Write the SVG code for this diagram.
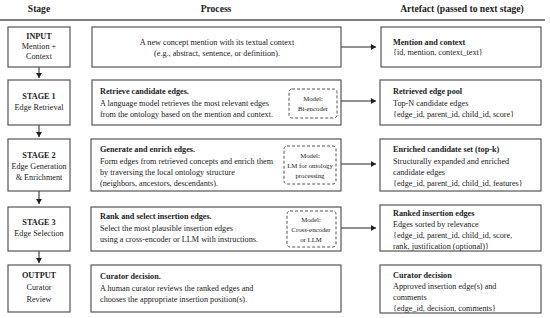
<svg xmlns="http://www.w3.org/2000/svg" width="550" height="318" viewBox="0 0 550 318">
<defs>
<marker id="ah" markerWidth="6" markerHeight="6" refX="5" refY="3" orient="auto" markerUnits="userSpaceOnUse">
<path d="M0,0 L5,3 L0,6 Z" fill="#222"/>
</marker>
</defs>
<style>
text{font-family:"Liberation Serif",serif;fill:#222;font-size:8.2px}
.h{font-size:9.6px;font-weight:bold;text-anchor:middle}
.b{font-weight:bold}
.c{text-anchor:middle}
.box{fill:#fff;stroke:#555;stroke-width:1.2}
.dash{fill:none;stroke:#555;stroke-width:1;stroke-dasharray:3,2}
.m{font-size:6.8px;text-anchor:middle}
.con{stroke:#222;stroke-width:1;fill:none}
</style>
<rect width="550" height="318" fill="#fff"/>
<g id="header">
<text class="h" x="39" y="12">Stage</text>
<text class="h" x="216" y="12">Process</text>
<text class="h" x="462" y="12">Artefact (passed to next stage)</text>
<line x1="0" y1="20" x2="545" y2="20" stroke="#555" stroke-width="1.3"/>
</g>
<g id="connectors">
<line class="con" x1="39" y1="67" x2="39" y2="78" marker-end="url(#ah)"/>
<line class="con" x1="39" y1="125" x2="39" y2="137" marker-end="url(#ah)"/>
<line class="con" x1="39" y1="191" x2="39" y2="204" marker-end="url(#ah)"/>
<line class="con" x1="39" y1="251" x2="39" y2="263" marker-end="url(#ah)"/>
<line class="con" x1="341" y1="47" x2="376" y2="47" marker-end="url(#ah)"/>
<line class="con" x1="341" y1="101" x2="376" y2="101" marker-end="url(#ah)"/>
<line class="con" x1="341" y1="164" x2="376" y2="164" marker-end="url(#ah)"/>
<line class="con" x1="341" y1="228" x2="376" y2="228" marker-end="url(#ah)"/>
</g>
<g id="stage-input">
<rect class="box" x="8" y="27" width="62" height="40"/>
<text class="c b" x="39" y="39">INPUT</text>
<text class="c" x="39" y="49">Mention +</text>
<text class="c" x="39" y="59">Context</text>
</g>
<g id="stage-1">
<rect class="box" x="8" y="80" width="62" height="45"/>
<text class="c b" x="39" y="99">STAGE 1</text>
<text class="c" x="39" y="110">Edge Retrieval</text>
</g>
<g id="stage-2">
<rect class="box" x="8" y="139" width="62" height="52"/>
<text class="c b" x="39" y="158">STAGE 2</text>
<text class="c" x="39" y="169">Edge Generation</text>
<text class="c" x="39" y="180">&amp; Enrichment</text>
</g>
<g id="stage-3">
<rect class="box" x="8" y="207" width="62" height="44"/>
<text class="c b" x="39" y="225">STAGE 3</text>
<text class="c" x="39" y="236">Edge Selection</text>
</g>
<g id="stage-output">
<rect class="box" x="8" y="265" width="62" height="47"/>
<text class="c b" x="39" y="278">OUTPUT</text>
<text class="c" x="39" y="290">Curator</text>
<text class="c" x="39" y="302">Review</text>
</g>
<g id="process-0">
<rect class="box" x="92" y="27" width="249" height="40"/>
<text class="c" x="217" y="45">A new concept mention with its textual context</text>
<text class="c" x="217" y="56">(e.g., abstract, sentence, or definition).</text>
</g>
<g id="process-1">
<rect class="box" x="92" y="80" width="249" height="45"/>
<text class="b" x="100" y="94">Retrieve candidate edges.</text>
<text x="100" y="106">A language model retrieves the most relevant edges</text>
<text x="100" y="117">from the ontology based on the mention and context.</text>
<rect class="dash" x="289" y="89" width="48" height="29" rx="3"/>
<text class="m" x="313" y="101">Model:</text>
<text class="m" x="313" y="111">Bi-encoder</text>
</g>
<g id="process-2">
<rect class="box" x="91" y="139" width="250" height="52"/>
<text class="b" x="100" y="152">Generate and enrich edges.</text>
<text x="100" y="164">Form edges from retrieved concepts and enrich them</text>
<text x="100" y="175">by traversing the local ontology structure</text>
<text x="100" y="186">(neighbors, ancestors, descendants).</text>
<rect class="dash" x="284" y="146" width="52" height="38" rx="3"/>
<text class="m" x="310" y="158">Model:</text>
<text class="m" x="310" y="168">LM for ontology</text>
<text class="m" x="310" y="178">processing</text>
</g>
<g id="process-3">
<rect class="box" x="91" y="207" width="250" height="44"/>
<text class="b" x="100" y="219">Rank and select insertion edges.</text>
<text x="100" y="231">Select the most plausible insertion edges</text>
<text x="100" y="242">using a cross-encoder or LLM with instructions.</text>
<rect class="dash" x="287" y="211" width="49" height="36" rx="3"/>
<text class="m" x="311" y="222">Model:</text>
<text class="m" x="311" y="232">Cross-encoder</text>
<text class="m" x="311" y="242">or LLM</text>
</g>
<g id="process-4">
<rect class="box" x="91" y="265" width="250" height="47"/>
<text class="b" x="100" y="279">Curator decision.</text>
<text x="100" y="291">A human curator reviews the ranked edges and</text>
<text x="100" y="302">chooses the appropriate insertion position(s).</text>
</g>
<g id="artefact-0">
<rect class="box" x="381" y="27" width="160" height="40"/>
<text class="b" x="393" y="45">Mention and context</text>
<text x="393" y="55">{id, mention, context_text}</text>
</g>
<g id="artefact-1">
<rect class="box" x="380" y="80" width="161" height="45"/>
<text class="b" x="393" y="94">Retrieved edge pool</text>
<text x="393" y="106">Top-N candidate edges</text>
<text x="393" y="117">{edge_id, parent_id, child_id, score}</text>
</g>
<g id="artefact-2">
<rect class="box" x="380" y="139" width="161" height="52"/>
<text class="b" x="393" y="152">Enriched candidate set (top-k)</text>
<text x="393" y="164">Structurally expanded and enriched</text>
<text x="393" y="175">candidate edges</text>
<text x="393" y="186">{edge_id, parent_id, child_id, features}</text>
</g>
<g id="artefact-3">
<rect class="box" x="380" y="205" width="161" height="46"/>
<text class="b" x="393" y="216">Ranked insertion edges</text>
<text x="393" y="227">Edges sorted by relevance</text>
<text x="393" y="238">{edge_id, parent_id, child_id, score,</text>
<text x="393" y="249">rank, justification (optional)}</text>
</g>
<g id="artefact-4">
<rect class="box" x="380" y="265" width="161" height="48"/>
<text class="b" x="393" y="278">Curator decision</text>
<text x="393" y="289">Approved insertion edge(s) and</text>
<text x="393" y="300">comments</text>
<text x="393" y="311">{edge_id, decision, comments}</text>
</g>
</svg>
